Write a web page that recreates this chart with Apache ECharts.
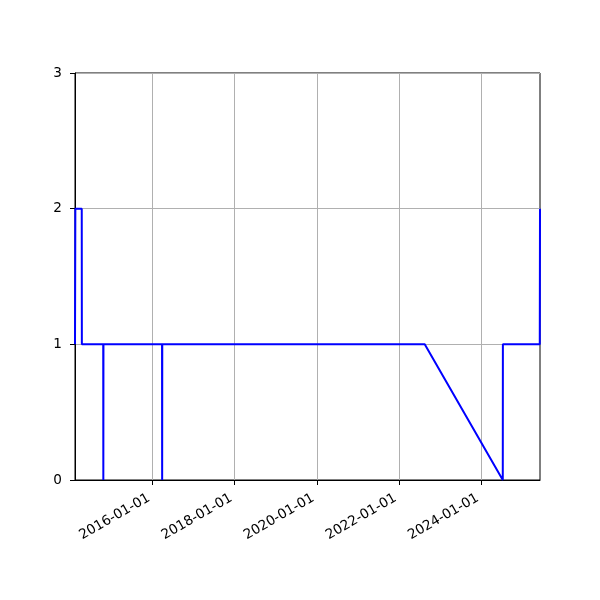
<!DOCTYPE html>
<html>
<head>
<meta charset="utf-8">
<script src="https://cdn.jsdelivr.net/npm/echarts@6/dist/echarts.min.js"></script>
<style>html,body{margin:0;padding:0;background:#fff;}#c{width:600px;height:600px;}</style>
</head>
<body>
<div id="c"></div>
<script>
var dates = ['2014-02-11','2014-02-14','2014-04-12','2014-04-13','2014-10-20','2014-10-21','2014-10-22','2016-03-26','2016-03-27','2016-03-28','2022-08-18','2024-07-12','2024-07-13','2025-06-06','2025-06-08'];
var values = [1,2,2,1,1,0,1,1,0,1,1,0,1,1,2];
var xTickLabels = ['2016-01-01','2018-01-01','2020-01-01','2022-01-01','2024-01-01'];
var yTicks = [0,1,2,3];

function ts(s){var p=s.split('-');return Date.UTC(+p[0],+p[1]-1,+p[2]);}
function fmt(v){var d=new Date(v);var m=d.getUTCMonth()+1,dd=d.getUTCDate();return d.getUTCFullYear()+'-'+(m<10?'0':'')+m+'-'+(dd<10?'0':'')+dd;}

var data = dates.map(function(d,i){return [ts(d), values[i]];});
var xt = xTickLabels.map(ts);
var font = 'DejaVu Sans';

var chart = echarts.init(document.getElementById('c'), null, {renderer:'canvas'});
chart.setOption({
  animation:false,
  backgroundColor:'#fff',
  grid:{left:75,right:60,top:73,bottom:120,show:true,borderColor:'#000',borderWidth:1,backgroundColor:'transparent',containLabel:false},
  xAxis:{
    type:'value',
    min:ts(dates[0]),
    max:ts(dates[dates.length-1]),
    axisLine:{show:true,lineStyle:{color:'#000',width:1}},
    axisTick:{show:true,inside:false,length:5,lineStyle:{color:'#000',width:1},customValues:xt},
    axisLabel:{customValues:xt,formatter:fmt,rotate:30,margin:15,padding:[0,4,0,0],color:'#000',fontFamily:font,fontSize:13.6},
    splitLine:{show:true,lineStyle:{color:'#b0b0b0',width:1}}
  },
  yAxis:{
    type:'value',min:yTicks[0],max:yTicks[yTicks.length-1],interval:1,
    axisLine:{show:true,lineStyle:{color:'#000',width:1}},
    axisTick:{show:true,inside:false,length:5,lineStyle:{color:'#000',width:1}},
    axisLabel:{color:'#000',fontFamily:font,fontSize:13.6,margin:13},
    splitLine:{show:true,lineStyle:{color:'#b0b0b0',width:1}}
  },
  series:[{
    type:'line',data:data,showSymbol:false,symbol:'none',
    lineStyle:{color:'#0000ff',width:2},
    clip:true
  }]
});
</script>
</body>
</html>
